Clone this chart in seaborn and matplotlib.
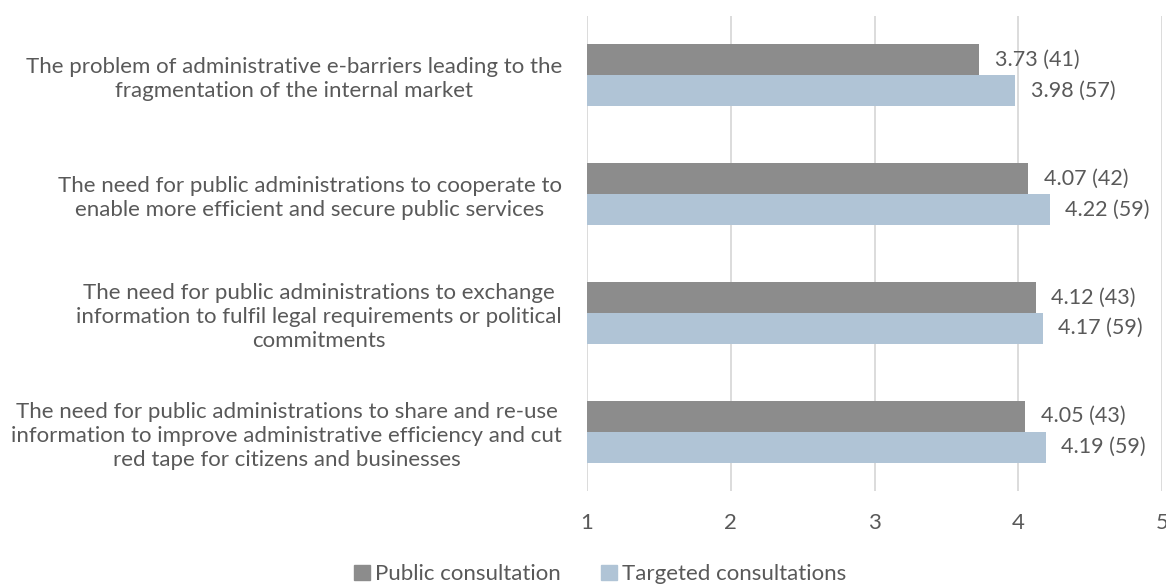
import seaborn as sns
import matplotlib.pyplot as plt
import pandas as pd

# datos
categories = [
    "The problem of administrative e-barriers leading to the\nfragmentation of the internal market",
    "The need for public administrations to cooperate to\nenable more efficient and secure public services",
    "The need for public administrations to exchange\ninformation to fulfil legal requirements or political\ncommitments",
    "The need for public administrations to share and re-use\ninformation to improve administrative efficiency and cut\nred tape for citizens and businesses",
]
public_scores = [3.73, 4.07, 4.12, 4.05]
public_n = [41, 42, 43, 43]
targeted_scores = [3.98, 4.22, 4.17, 4.19]
targeted_n = [57, 59, 59, 59]
series = ["Public consultation", "Targeted consultations"]
x_ticks = [1, 2, 3, 4, 5]

df = pd.DataFrame({
    "category": categories * 2,
    "score": public_scores + targeted_scores,
    "n": public_n + targeted_n,
    "series": [series[0]] * 4 + [series[1]] * 4,
})

sns.set_style("white")
plt.rcParams["font.family"] = ["Lato", "DejaVu Sans"]
text_color = "#595959"
fs = 16

fig = plt.figure(figsize=(11.66, 5.86), dpi=100)
ax = fig.add_axes([0.5034, 0.1621, 0.4932, 0.8106])

sns.barplot(data=df, y="category", x="score", hue="series", orient="h",
            palette=["#8c8c8c", "#b0c4d6"], width=0.52, ax=ax, legend=False,
            saturation=1, linewidth=0)

# etiquetas de las barras
for cont, sc, nn in zip(ax.containers, [public_scores, targeted_scores], [public_n, targeted_n]):
    labels = [f"{s:.2f} ({k})" for s, k in zip(sc, nn)]
    ax.bar_label(cont, labels=labels, padding=11, fontsize=15.5, color=text_color)

ax.set_xlim(1, 5)
ax.set_ylim(3.5, -0.5)
ax.set_xticks(x_ticks)
ax.grid(axis="x", color="#d9d9d9", linewidth=1.3)
ax.set_axisbelow(True)
for s in ax.spines.values():
    s.set_visible(False)
ax.set_xlabel("")
ax.set_ylabel("")
ax.tick_params(axis="x", length=0, pad=16, labelsize=fs, labelcolor=text_color)
ax.tick_params(axis="y", length=0, pad=18, labelsize=fs, labelcolor=text_color)
for t in ax.get_yticklabels():
    t.set_multialignment("center")
    t.set_linespacing(1.25)

handles = [plt.Rectangle((0, 0), 1, 1, color=c) for c in ["#8c8c8c", "#b0c4d6"]]
fig.legend(handles, series, loc="center", bbox_to_anchor=(0.515, 0.02), ncol=2,
           frameon=False, fontsize=fs, labelcolor=text_color, handlelength=0.7,
           handleheight=0.7, handletextpad=0.25, columnspacing=1.8,
           borderpad=0, borderaxespad=0)

plt.savefig("out.png", dpi=100)
